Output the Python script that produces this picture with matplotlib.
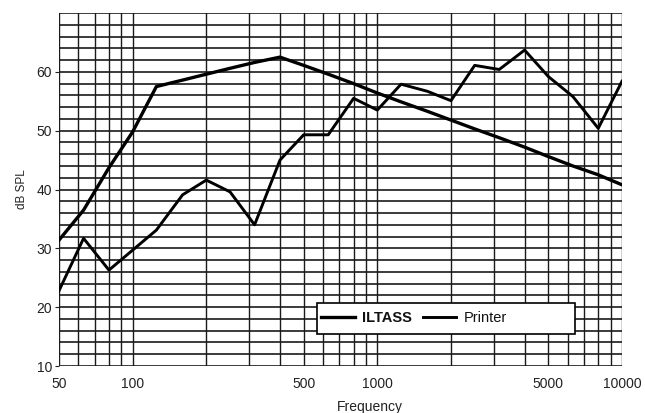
import matplotlib
matplotlib.use("Agg")
import matplotlib.pyplot as plt
from matplotlib.patches import Rectangle
import numpy as np

plt.rcParams['font.family'] = ['Liberation Sans', 'DejaVu Sans']

freqs = [50, 63, 80, 100, 125, 160, 200, 250, 315, 400, 500, 630, 800,
         1000, 1250, 1600, 2000, 2500, 3150, 4000, 5000, 6300, 8000, 10000]
iltass = [31.4, 36.5, 43.7, 49.8, 57.5, 58.6, 59.6, 60.6, 61.6, 62.5, 61.1,
          59.6, 58.0, 56.4, 54.9, 53.3, 51.8, 50.3, 48.8, 47.2, 45.6, 44.0,
          42.5, 40.8]
printer = [22.8, 31.7, 26.3, 29.7, 33.1, 39.1, 41.6, 39.6, 34.0, 45.0, 49.3,
           49.3, 55.5, 53.5, 57.9, 56.7, 55.1, 61.1, 60.4, 63.7, 59.2, 55.8,
           50.4, 58.4]
xtick_vals = [50, 100, 500, 1000, 5000, 10000]
xtick_labels = ['50', '100', '500', '1000', '5000', '10000']
ytick_vals = [10, 20, 30, 40, 50, 60]

fig = plt.figure(figsize=(6.45, 4.13), dpi=100)
ax = fig.add_axes([0.0915, 0.1138, 0.8728, 0.8547])
ax.set_xscale('log')
ax.set_xlim(50, 10000)
ax.set_ylim(10, 70)

# grid
vlines = [m * 10**d for d in range(1, 5) for m in range(1, 10)]
vlines = [v for v in vlines if 50 <= v <= 10000]
for v in vlines:
    ax.axvline(v, color='#1a1a1a', lw=1.0, zorder=1)
for h in range(10, 71, 2):
    ax.axhline(h, color='#1a1a1a', lw=1.2, zorder=1)

ax.plot(freqs, iltass, color='black', lw=2.4, label='ILTASS', zorder=3)
ax.plot(freqs, printer, color='black', lw=2.1, label='Printer', zorder=3)

for s in ax.spines.values():
    s.set_visible(False)

ax.set_xticks(xtick_vals)
ax.set_xticklabels(xtick_labels)
ax.xaxis.set_minor_locator(matplotlib.ticker.NullLocator())
ax.set_yticks(ytick_vals)
ax.tick_params(axis='x', length=0, pad=8, labelsize=10, colors='#222222')
ax.tick_params(axis='y', length=3, pad=2, labelsize=10, colors='#222222')

ax.set_xlabel('Frequency', fontsize=10, color='#222222', labelpad=5)
ax.xaxis.set_label_coords(0.552, -0.097)
ax.set_ylabel('dB SPL', fontsize=8.5, color='#222222', labelpad=6)

# legend box
box = Rectangle((0.458, 0.0907), 0.4585, 0.0878, transform=ax.transAxes,
                facecolor='white', edgecolor='black', lw=1.2, zorder=4)
ax.add_patch(box)
leg = ax.legend(loc='center left', bbox_to_anchor=(0.458, 0.1346), ncol=2,
                fontsize=10.5, frameon=False, handlelength=2.3,
                columnspacing=0.75, borderpad=0.0, borderaxespad=0.3,
                handletextpad=0.5)
leg.set_zorder(5)
for t in leg.get_texts():
    t.set_color('#111111')
leg.get_texts()[0].set_fontweight('bold')

fig.savefig('out.png', dpi=100)
